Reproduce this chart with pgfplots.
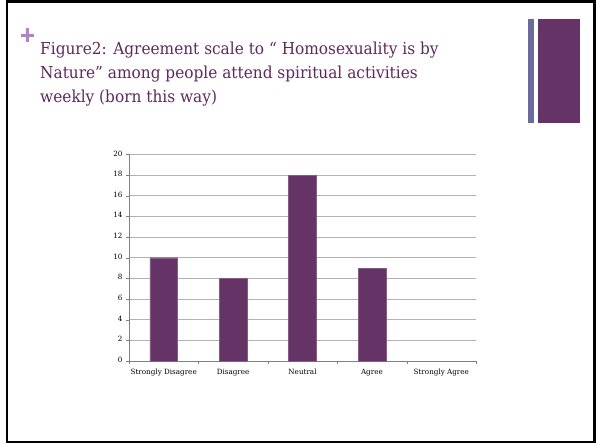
\documentclass[border=0pt]{standalone}
\usepackage{pgfplots}
\pgfplotsset{compat=1.18}
\usepackage{fontspec}
\setmainfont{DejaVu Serif}
\definecolor{barc}{HTML}{663366}
\definecolor{titlec}{HTML}{5E2A5E}
\definecolor{plusc}{HTML}{B77FC6}
\definecolor{side}{HTML}{6B6A9D}
\begin{document}
\begin{tikzpicture}[x=1pt,y=1pt]
\useasboundingbox (0,0) rectangle (596,445);
\fill[white] (0,0) rectangle (596,445);
\draw[black, line width=2.2pt] (7,3) rectangle (594.5,443.5);
% sidebar
\fill[side] (528,322) rectangle (534,426);
\fill[barc] (538,322) rectangle (580,426);
% plus sign
\draw[plusc, line width=3.5pt] (21,409.5) -- (34,409.5);
\draw[plusc, line width=3.5pt] (27.5,416.5) -- (27.5,402.5);
% title
\begin{scope}[every node/.style={anchor=base west, inner sep=0pt, text=titlec, font=\fontsize{16.5}{20}\selectfont}]
\node at (40,390) {\scalebox{0.93}[1]{Figure2: Agreement scale to “ Homosexuality is by}};
\node at (40,366) {\scalebox{0.93}[1]{Nature” among people attend spiritual activities}};
\node at (40,342) {\scalebox{0.93}[1]{weekly (born this way)}};
\end{scope}
\begin{axis}[
  at={(163.7pt,84pt)}, anchor=origin,
  scale only axis, width=347pt, height=206.6pt,
  ybar, bar width=27.7pt,
  xmin=-0.5, xmax=4.5, ymin=0, ymax=20,
  ytick={0,2,...,20},
  xtick={0,...,4},
  xticklabels={Strongly Disagree,Disagree,Neutral,Agree,Strongly Agree},
  major x tick style={draw=none},
  extra x ticks={-0.5,0.5,1.5,2.5,3.5,4.5},
  extra x tick labels={},
  extra x tick style={grid=none, major tick length=3pt, tick align=outside, major x tick style={draw=gray}},
  axis x line*=bottom, axis y line*=left,
  axis line style={draw=gray, -},
  tick align=outside, major tick length=3pt,
  tick style={draw=gray},
  ymajorgrids, grid style={draw=gray!60, line width=0.9pt},
  tick label style={font=\fontsize{7.2}{8}\selectfont},
  typeset ticklabels with strut,
  /pgf/number format/assume math mode=true,
  yticklabel style={xshift=0pt},
  xticklabel style={yshift=-1pt},
]
\addplot[fill=barc, draw=barc!80!white] coordinates {(0,10) (1,8) (2,18) (3,9)};
\end{axis}
\end{tikzpicture}
\end{document}
